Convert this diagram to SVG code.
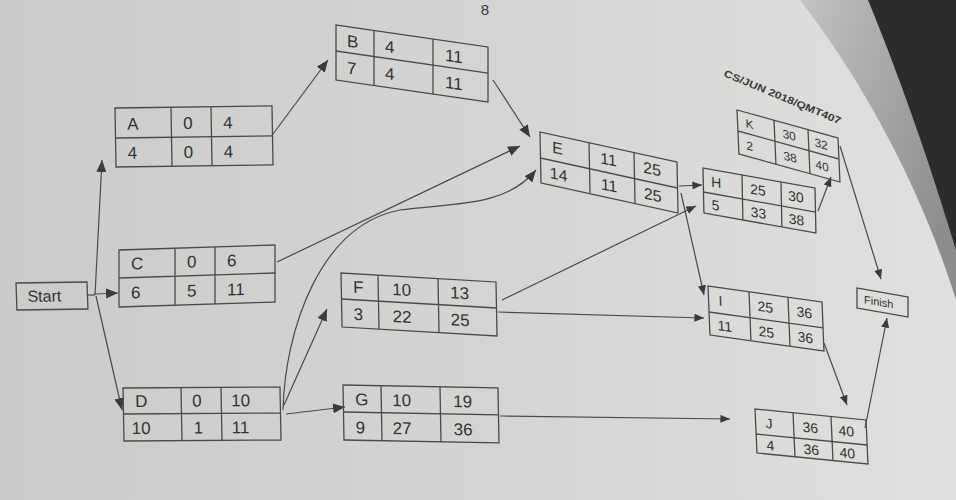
<svg xmlns="http://www.w3.org/2000/svg" width="956" height="500" viewBox="0 0 956 500">
<defs>
<linearGradient id="paper" x1="0" y1="0" x2="1" y2="0">
<stop offset="0" stop-color="#cbcbc9"/>
<stop offset="0.6" stop-color="#d6d6d4"/>
<stop offset="1" stop-color="#e0e0de"/>
</linearGradient>
<linearGradient id="edge" x1="0" y1="0" x2="1" y2="0.6">
<stop offset="0" stop-color="#b8b8b6"/>
<stop offset="1" stop-color="#6a6a6a"/>
</linearGradient>
<marker id="arr" viewBox="0 0 12 10" markerUnits="userSpaceOnUse" markerWidth="12" markerHeight="10" refX="12" refY="5" orient="auto">
<path d="M0,0 L12,5 L0,10 z" fill="#3a3a3a"/>
</marker>
<marker id="arrS" viewBox="0 0 12 10" markerUnits="userSpaceOnUse" markerWidth="10" markerHeight="8" refX="12" refY="5" orient="auto">
<path d="M0,0 L12,5 L0,10 z" fill="#3a3a3a"/>
</marker>
<style>
.box rect, .box path { fill: none; stroke: #4a4a4a; stroke-width: 1.3; }
.box text { font-family: "Liberation Sans", Arial, sans-serif; fill: #333; }
.t17 text { font-size: 17px; }
.t16 text { font-size: 16px; }
.t14 text { font-size: 14px; }
.t12 text { font-size: 12px; }
.con path { fill: none; stroke: #4a4a4a; stroke-width: 1.2; }
.big { marker-end: url(#arr); }
.sm { marker-end: url(#arrS); }
.hdr { font-family: "Liberation Sans", Arial, sans-serif; fill: #3a3a3a; }
</style>
</defs>

<rect width="956" height="500" fill="url(#paper)"/>
<path d="M800,0 L870,0 C905,90 935,180 956,240 L956,300 C925,200 870,90 800,0 Z" fill="url(#edge)" opacity="0.7"/>
<path d="M868,0 L956,0 L956,250 C935,180 905,90 868,0 Z" fill="#2c2c2c"/>

<text class="hdr" x="485" y="15" font-size="15" text-anchor="middle">8</text>
<text class="hdr" x="723" y="76" font-size="10" font-weight="bold" textLength="126" lengthAdjust="spacingAndGlyphs" transform="rotate(22.6 723 76)">CS/JUN 2018/QMT407</text>

<g id="connectors" class="con">
<path d="M87,295 H95"/>
<path class="big" d="M95,295 L102,160"/>
<path class="big" d="M95,294 L118,293"/>
<path class="big" d="M96,296 L122,410"/>
<path class="big" d="M273,134 L328,60"/>
<path class="big" d="M493,80 L530,137"/>
<path class="big" d="M277,262 L520,146"/>
<path class="big" d="M283,410 C285,330 320,225 400,210 C450,203 505,208 536,170"/>
<path class="big" d="M284,405 L327,309"/>
<path class="big" d="M286,414 L345,407"/>
<path class="sm" d="M679,186 L702,185"/>
<path class="sm" d="M681,193 L704,295"/>
<path class="sm" d="M502,300 L696,206"/>
<path class="sm" d="M498,312 L704,318"/>
<path class="sm" d="M500,416 L730,419"/>
<path class="sm" d="M818,211 L831,177"/>
<path class="sm" d="M840,146 L881,279"/>
<path class="sm" d="M824,343 L847,405"/>
<path class="sm" d="M865,428 L887,318"/>
</g>

<g id="Start" class="box t16" transform="matrix(1 -0.014 0.035 1 16 283)">
<rect width="71" height="27"/>
<text x="11" y="19">Start</text>
</g>

<g id="A" class="box t17" transform="matrix(1 -0.013 0.017 1 115 108)">
<rect width="157" height="59"/>
<path d="M0,30H157M56,0V59M96,0V59"/>
<text x="12" y="22">A</text><text x="68" y="22">0</text><text x="108" y="22">4</text>
<text x="12" y="51">4</text><text x="68" y="51">0</text><text x="108" y="51">4</text>
</g>

<g id="B" class="box t17" transform="matrix(1 0.145 0 1 336 25)">
<rect width="152" height="55"/>
<path d="M0,26H152M38,0V55M97,0V55"/>
<text x="11" y="20">B</text><text x="49" y="20">4</text><text x="109" y="20">11</text>
<text x="11" y="47">7</text><text x="49" y="47">4</text><text x="109" y="47">11</text>
</g>

<g id="C" class="box t17" transform="matrix(1 -0.032 0 1 119 250)">
<rect width="156" height="57"/>
<path d="M0,28H156M56,0V57M96,0V57"/>
<text x="12" y="20">C</text><text x="68" y="20">0</text><text x="108" y="20">6</text>
<text x="12" y="49">6</text><text x="68" y="49">5</text><text x="108" y="49">11</text>
</g>

<g id="D" class="box t17" transform="matrix(1 -0.006 0.019 1 123 388)">
<rect width="157" height="53"/>
<path d="M0,26H157M58,0V53M98,0V53"/>
<text x="12" y="19">D</text><text x="69" y="19">0</text><text x="108" y="19">10</text>
<text x="8" y="46">10</text><text x="70" y="46">1</text><text x="108" y="46">11</text>
</g>

<g id="E" class="box t16" transform="matrix(1 0.219 0.02 1 540 132)">
<rect width="137" height="51"/>
<path d="M0,26H137M49,0V51M94,0V51"/>
<text x="12" y="18">E</text><text x="60" y="18">11</text><text x="103" y="18">25</text>
<text x="9" y="44">14</text><text x="60" y="44">11</text><text x="103" y="44">25</text>
</g>

<g id="F" class="box t17" transform="matrix(1 0.058 0.019 1 341 273)">
<rect width="155" height="54"/>
<path d="M0,26H155M37,0V54M97,0V54"/>
<text x="12" y="19">F</text><text x="51" y="19">10</text><text x="109" y="19">13</text>
<text x="12" y="46">3</text><text x="51" y="46">22</text><text x="109" y="46">25</text>
</g>

<g id="G" class="box t17" transform="matrix(1 0.019 0.018 1 343 385)">
<rect width="155" height="55"/>
<path d="M0,27H155M38,0V55M97,0V55"/>
<text x="12" y="20">G</text><text x="49" y="20">10</text><text x="110" y="20">19</text>
<text x="12" y="48">9</text><text x="49" y="48">27</text><text x="110" y="48">36</text>
</g>

<g id="H" class="box t14" transform="matrix(1 0.179 0.02 1 703 168)">
<rect width="112" height="45"/>
<path d="M0,24H112M39,0V45M78,0V45"/>
<text x="8" y="17">H</text><text x="47" y="17">25</text><text x="85" y="17">30</text>
<text x="8" y="40">5</text><text x="47" y="40">33</text><text x="85" y="40">38</text>
</g>

<g id="K" class="box t12" transform="matrix(1 0.277 0.044 1 737 110)">
<rect width="101" height="44"/>
<path d="M0,21H101M37,0V44M71,0V44"/>
<text x="8" y="15">K</text><text x="45" y="15">30</text><text x="77" y="15">32</text>
<text x="8" y="37">2</text><text x="45" y="37">38</text><text x="77" y="37">40</text>
</g>

<g id="I" class="box t14" transform="matrix(1 0.14 0.04 1 708 286)">
<rect width="114" height="49"/>
<path d="M0,26H114M41,0V49M80,0V49"/>
<text x="10" y="18">I</text><text x="49" y="18">25</text><text x="88" y="18">36</text>
<text x="8" y="43">11</text><text x="49" y="43">25</text><text x="88" y="43">36</text>
</g>

<g id="J" class="box t14" transform="matrix(1 0.099 0.045 1 755 409)">
<rect width="111" height="44"/>
<path d="M0,25H111M38,0V44M76,0V44"/>
<text x="10" y="18">J</text><text x="47" y="18">36</text><text x="83" y="18">40</text>
<text x="10" y="40">4</text><text x="47" y="40">36</text><text x="83" y="40">40</text>
</g>

<g id="Finish" class="box" transform="matrix(1 0.176 0 1 857 288)">
<rect width="51" height="20"/>
<text x="7" y="14" font-size="11">Finish</text>
</g>
</svg>
